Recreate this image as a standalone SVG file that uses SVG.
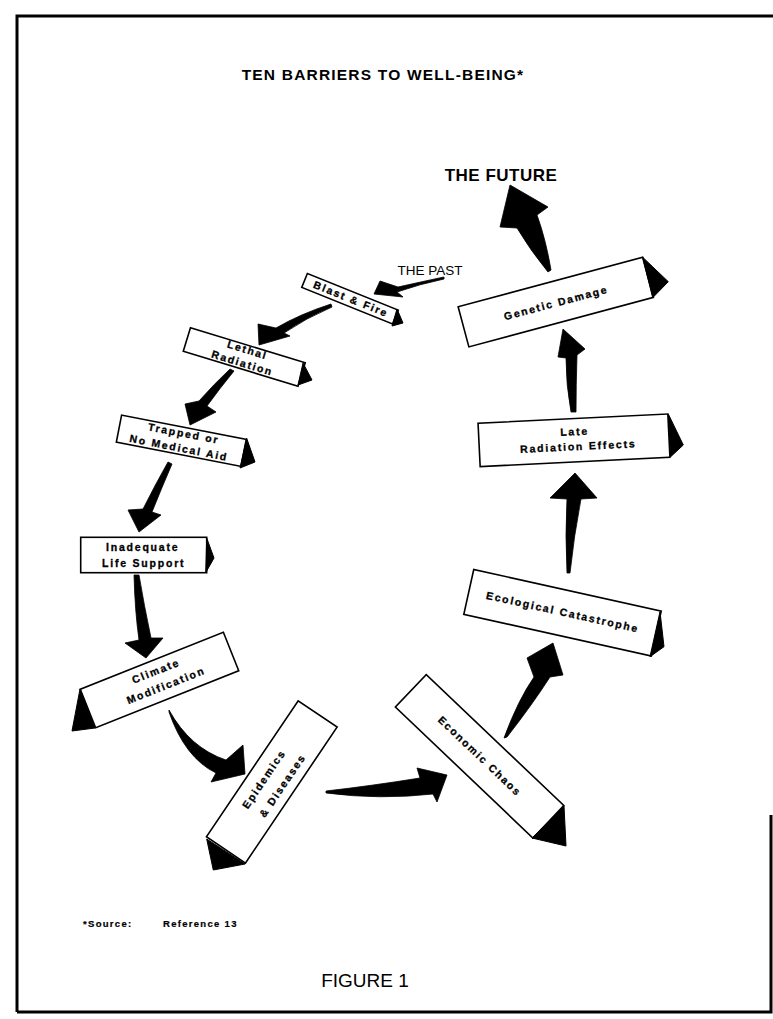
<svg xmlns="http://www.w3.org/2000/svg" width="773" height="1019" viewBox="0 0 773 1019">
<style>
.box{fill:#fff;stroke:#000;stroke-width:1.6}
.tri{fill:#000;stroke:#000;stroke-width:1;stroke-linejoin:round}
.lbl{font-family:"Liberation Sans",Arial,Helvetica,sans-serif;font-weight:bold;font-size:10.5px;letter-spacing:1.8px;text-anchor:middle;fill:#000;stroke:#000;stroke-width:0.3}
.arr{fill:#000;stroke:#000;stroke-width:0.8;stroke-linejoin:round}
.frame{fill:none;stroke:#000;stroke-width:3}
.title{font-family:"Liberation Sans",Arial,Helvetica,sans-serif;font-weight:bold;font-size:15.5px;letter-spacing:1.2px;text-anchor:middle}
.big{font-family:"Liberation Sans",Arial,Helvetica,sans-serif;font-weight:bold;font-size:17px;letter-spacing:0.5px;text-anchor:middle}
.past{font-family:"Liberation Sans",Arial,Helvetica,sans-serif;font-size:13.5px;text-anchor:middle}
.src{font-family:"Liberation Sans",Arial,Helvetica,sans-serif;font-weight:bold;font-size:9.5px;letter-spacing:1.3px;stroke:#000;stroke-width:0.2}
.fig{font-family:"Liberation Sans",Arial,Helvetica,sans-serif;font-size:19px;text-anchor:middle}
</style>
<rect width="773" height="1019" fill="#fff"/>
<g id="frame">
<path class="frame" d="M17,1012 V16 H773"/>
<path class="frame" d="M17,1012 H771 V815"/>
</g>
<g id="texts">
<text class="title" x="383" y="80">TEN BARRIERS TO WELL-BEING*</text>
<text class="big" x="501" y="181">THE FUTURE</text>
<text class="past" x="430" y="275">THE PAST</text>
<text class="src" x="83" y="927">*Source:</text>
<text class="src" x="163" y="927">Reference 13</text>
<text class="fig" x="365" y="987">FIGURE 1</text>
</g>
<g id="connectors">
<path class="arr" d="M444,277 Q425,281 398,287 L380,281 L374,294 L403,297 L397,292 Q420,284 444,279 Z"/>
<path class="arr" d="M331,304 Q300,314 276,328 L258,324 L259,345 L290,336 L284,333 Q306,318 332,307 Z"/>
<path class="arr" d="M230,369 Q214,384 199,401 L185,404 L190,425 L216,412 L207,406 Q220,388 234,371 Z"/>
<path class="arr" d="M168,462 Q155,485 143,509 L128,510 L139,532 L161,515 L152,512 Q162,487 172,464 Z"/>
<path class="arr" d="M134,575 Q135,612 139,640 L125,643 L146,658 L163,638 L151,638 Q144,605 139,575 Z"/>
<path class="arr" d="M169,710 Q190,748 226,760 L243,745 L245,774 L211,782 L216,773 Q185,758 169,712 Z"/>
<path class="arr" d="M326,791 Q370,786 420,778 L417,768 L447,775 L437,802 L433,794 Q380,800 326,793 Z"/>
<path class="arr" d="M504,738 Q518,700 534,677 L527,658 L553,643 L563,675 L550,677 Q532,705 507,737 Z"/>
<path class="arr" d="M567,573 Q565,535 567,499 L550,498 L575,473 L597,498 L581,499 Q574,535 570,573 Z"/>
<path class="arr" d="M571,412 Q566,385 566,358 L558,357 L563,329 L585,349 L577,355 Q576,385 576,412 Z"/>
<path class="arr" d="M548,272 Q530,250 517,228 L500,227 L510,185 L548,207 L537,215 Q546,240 551,270 Z"/>
</g>
<g id="n-blast">
<g transform="translate(350,298.75) rotate(22)">
<rect class="box" x="-49" y="-7.5" width="98" height="15"/>
<text class="lbl" x="1" y="3.5">Blast &amp; Fire</text>
</g>
<polygon class="tri" points="397,309 403,323 392,326"/>
</g>
<g id="n-lethal">
<g transform="translate(244.25,357) rotate(17)">
<rect class="box" x="-60" y="-12.3" width="120" height="24.6"/>
<text class="lbl" x="1" y="-4">Lethal</text>
<text class="lbl" x="0" y="10">Radiation</text>
</g>
<polygon class="tri" points="303,363 312,380 298,385"/>
</g>
<g id="n-trapped">
<g transform="translate(181.3,440.8) rotate(11)">
<rect class="box" x="-63.5" y="-13.75" width="127" height="27.5"/>
<text class="lbl" x="1" y="-4">Trapped or</text>
<text class="lbl" x="-1" y="11">No Medical Aid</text>
</g>
<polygon class="tri" points="246.7,438.3 255,462 240,468"/>
</g>
<g id="n-inadequate">
<g transform="translate(143.7,555)">
<rect class="box" x="-63" y="-17.7" width="126" height="35.4"/>
<text class="lbl" x="-1" y="-3.8">Inadequate</text>
<text class="lbl" x="0" y="11.8">Life Support</text>
</g>
<polygon class="tri" points="206.7,538 214,558 205.7,572.7"/>
</g>
<g id="n-climate">
<g transform="translate(159.5,680) rotate(-21.7)">
<rect class="box" x="-77" y="-20.75" width="154" height="41.5"/>
<text class="lbl" x="0" y="-6">Climate</text>
<text class="lbl" x="4" y="11">Modification</text>
</g>
<polygon class="tri" points="80,689 95,728 72,731"/>
</g>
<g id="n-epidemics">
<g transform="translate(271.8,781.9) rotate(-56)">
<rect class="box" x="-82" y="-23.5" width="164" height="47"/>
<text class="lbl" x="-2" y="-4.5">Epidemics</text>
<text class="lbl" x="3" y="14.5">&amp; Diseases</text>
</g>
<polygon class="tri" points="206.7,839 245,864 213.3,870"/>
</g>
<g id="n-economic">
<g transform="translate(479.6,756.3) rotate(43.6)">
<rect class="box" x="-95" y="-22.4" width="190" height="44.8"/>
<text class="lbl" x="0" y="3.5">Economic Chaos</text>
</g>
<polygon class="tri" points="564,806 566,846 532,838"/>
</g>
<g id="n-ecological">
<g transform="translate(562.5,612.7) rotate(12.5)">
<rect class="box" x="-96" y="-23" width="192" height="46"/>
<text class="lbl" x="0" y="3">Ecological Catastrophe</text>
</g>
<polygon class="tri" points="660,611.7 664,646.7 650,656.7"/>
</g>
<g id="n-late">
<g transform="translate(574,440.3) rotate(-2.8)">
<rect class="box" x="-95" y="-21.7" width="190" height="43.4"/>
<text class="lbl" x="1" y="-5">Late</text>
<text class="lbl" x="4" y="10">Radiation Effects</text>
</g>
<polygon class="tri" points="668.3,414 683.3,445 670.7,456.7"/>
</g>
<g id="n-genetic">
<g transform="translate(555.75,302.1) rotate(-15)">
<rect class="box" x="-95.5" y="-20.75" width="191" height="41.5"/>
<text class="lbl" x="0" y="4.5">Genetic Damage</text>
</g>
<polygon class="tri" points="642.7,257.3 668.3,281.7 652.7,297.7"/>
</g>
</svg>
